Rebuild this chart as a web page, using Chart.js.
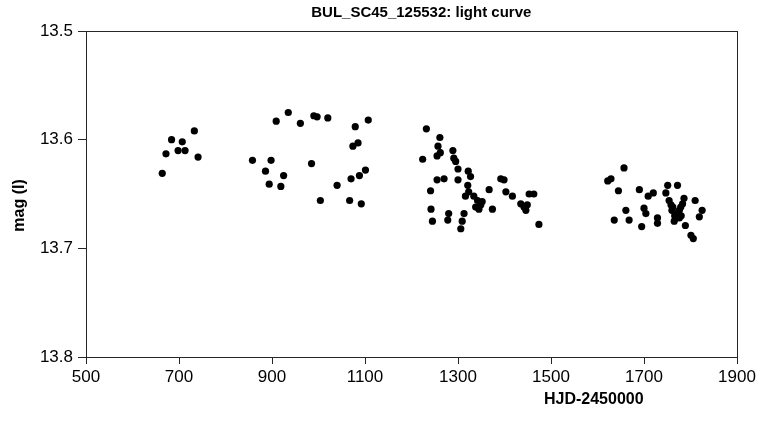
<!DOCTYPE html>
<html>
<head>
<meta charset="utf-8">
<script src="https://cdn.jsdelivr.net/npm/chart.js@4/dist/chart.umd.min.js"></script>
<style>
	html, body { margin: 0; padding: 0; background: #fff; }
	#wrap { width: 763px; height: 425px; }
</style>
</head>
<body>
<div id="wrap"><canvas id="lightCurve" width="763" height="425"></canvas></div>
<script>
const hjd = [
	664, 672, 684, 698, 707, 713, 733, 741,
	858, 898, 886, 894, 925, 919, 909, 935, 961, 985, 990, 997, 1020, 1004,
	1040, 1067, 1070, 1079, 1074, 1085, 1088, 1101, 1092, 1107,
	1232, 1224, 1261, 1257, 1262, 1255, 1289, 1291, 1295, 1300, 1322, 1327,
	1300, 1255, 1270, 1241, 1321, 1323, 1316, 1334, 1342, 1352, 1338, 1345,
	1349, 1367, 1374, 1392, 1399, 1403, 1417, 1435, 1442, 1446, 1449, 1453,
	1463, 1474, 1242, 1245, 1280, 1278, 1313, 1309, 1306,
	1657, 1622, 1629, 1645, 1690, 1709, 1720, 1751, 1772, 1747, 1754, 1762,
	1769, 1765, 1776, 1783, 1786, 1776, 1810, 1825, 1819, 1789, 1806, 1801,
	1661, 1700, 1704, 1695, 1636, 1668, 1729, 1729, 1758, 1772, 1779, 1766,
	1760, 1780
];
const mag = [
	13.631, 13.613, 13.600, 13.610, 13.602, 13.610, 13.592, 13.616,
	13.619, 13.619, 13.629, 13.641, 13.633, 13.643, 13.583, 13.575, 13.585, 13.622, 13.578, 13.579, 13.580, 13.656,
	13.642, 13.656, 13.636, 13.588, 13.606, 13.603, 13.633, 13.628, 13.659, 13.582,
	13.590, 13.618, 13.598, 13.606, 13.612, 13.615, 13.610, 13.617, 13.620, 13.627, 13.629, 13.634,
	13.637, 13.637, 13.636, 13.647, 13.642, 13.648, 13.652, 13.652, 13.656, 13.657, 13.662, 13.664,
	13.660, 13.646, 13.664, 13.636, 13.637, 13.648, 13.652, 13.659, 13.662, 13.665, 13.660, 13.650,
	13.650, 13.678, 13.664, 13.675, 13.668, 13.674, 13.668, 13.675, 13.682,
	13.626, 13.638, 13.636, 13.647, 13.646, 13.652, 13.649, 13.642, 13.642, 13.649, 13.656, 13.662,
	13.668, 13.675, 13.665, 13.659, 13.654, 13.672, 13.656, 13.665, 13.671, 13.679, 13.691, 13.688,
	13.665, 13.663, 13.668, 13.680, 13.674, 13.674, 13.672, 13.677, 13.660, 13.668, 13.662, 13.670,
	13.665, 13.670
];
const chartTitle = 'BUL_SC45_125532: light curve';
const xTitle = 'HJD-2450000';
const yTitle = 'mag (I)';

const axisColor = '#262626';
const fontFamily = '"Liberation Sans", Arial, sans-serif';

// box round the plot, the title and the two axis titles where Excel left them
const framePlugin = {
	id: 'frame',
	afterDraw(chart) {
		const { ctx, chartArea } = chart;
		const w = chartArea.right - chartArea.left;
		const h = chartArea.bottom - chartArea.top;
		ctx.save();
		ctx.strokeStyle = axisColor;
		ctx.lineWidth = 1;
		ctx.strokeRect(chartArea.left + 0.5, chartArea.top + 0.5, w, h);

		ctx.fillStyle = '#000';
		ctx.textAlign = 'center';
		ctx.textBaseline = 'middle';

		ctx.font = 'bold 15px ' + fontFamily;
		ctx.fillText(chartTitle, chartArea.left + w * 0.515, 13);

		ctx.font = 'bold 16px ' + fontFamily;
		ctx.fillText(xTitle, chartArea.left + w * 0.78, chartArea.bottom + 43);

		ctx.translate(20, chartArea.top + h * 0.535);
		ctx.rotate(-Math.PI / 2);
		ctx.fillText(yTitle, 0, 0);
		ctx.restore();
	}
};

new Chart(document.getElementById('lightCurve'), {
	type: 'scatter',
	data: {
		datasets: [
			{
				label: 'I',
				data: hjd.map((d, i) => ({ x: d, y: mag[i] })),
				backgroundColor: '#000',
				borderColor: '#000',
				pointStyle: 'circle',
				pointRadius: 3.6,
				borderWidth: 0
			}
		]
	},
	options: {
		responsive: false,
		animation: false,
		layout: {
			padding: { left: 0, right: 26, top: 31, bottom: 0 }
		},
		scales: {
			x: {
				type: 'linear',
				min: 500,
				max: 1900,
				ticks: {
					stepSize: 200,
					color: '#000',
					padding: 3,
					font: { family: fontFamily, size: 17 },
					callback: (v) => String(v)
				},
				grid: { drawOnChartArea: false, drawTicks: true, tickLength: 7, color: axisColor },
				border: { display: true, color: axisColor },
				afterFit: (scale) => { scale.height = 68; }
			},
			y: {
				type: 'linear',
				min: 13.5,
				max: 13.8,
				reverse: true,
				ticks: {
					stepSize: 0.1,
					color: '#000',
					padding: 5,
					font: { family: fontFamily, size: 17 },
					callback: (v) => v.toFixed(1)
				},
				grid: { drawOnChartArea: false, drawTicks: true, tickLength: 8, color: axisColor },
				border: { display: true, color: axisColor },
				afterFit: (scale) => { scale.width = 86; }
			}
		},
		plugins: {
			legend: { display: false },
			tooltip: { enabled: false },
			title: { display: false }
		}
	},
	plugins: [framePlugin]
});
</script>
</body>
</html>
